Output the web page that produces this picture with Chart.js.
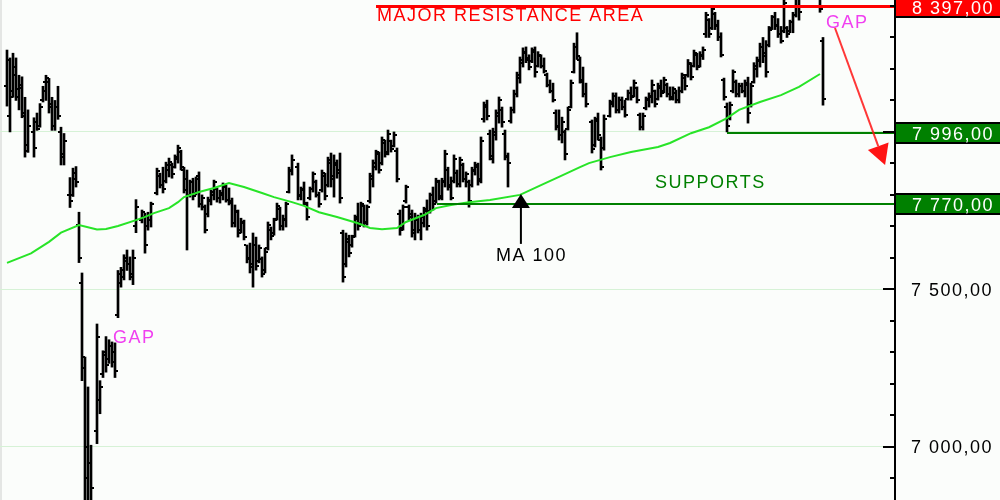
<!DOCTYPE html>
<html><head><meta charset="utf-8">
<script src="https://cdn.jsdelivr.net/npm/chart.js@4.4.1/dist/chart.umd.min.js"></script>
<style>html,body{margin:0;padding:0;background:#fbfdfb;overflow:hidden}canvas{display:block}</style>
</head><body>
<canvas id="c" width="1000" height="500"></canvas>
<script>
// trading-day index of each bar
const days = [
0,1,2,3,4,5,6,7,9,10,11,12,13,14,15,16,17,18,19,21,22,23,24,25,26,27,28,30,31,32,33,34,35,36,37,38,39,40,41,42,43,
45,46,47,48,50,51,52,53,54,55,56,57,58,59,60,61,62,63,64,65,66,67,68,69,70,71,72,73,74,75,76,77,78,79,80,81,82,83,84,85,86,87,88,89,90,91,92,93,94,95,
97,98,99,100,101,102,103,104,105,106,107,108,109,110,111,112,113,114,115,116,117,118,119,120,121,122,123,124,125,126,127,128,129,130,131,132,133,134,135,136,
137,138,139,140,141,142,143,144,145,146,147,148,149,150,151,152,153,154,155,156,157,158,159,160,161,162,163,164,165,166,167,168,169,170,171,172,173,174,175,176,
177,178,179,180,181,182,183,184,185,186,187,188,189,190,191,192,193,
195,196,197,198,199,
201,202,203,204,205,206,207,208,209,210,211,212,213,214,215,216,217,218,219,220,221,222,223,224,225,226,227,228,229,230,231,232,233,234,235,236,237,238,239,240,
241,242,243,244,245,246,247,248,249,250,251,252,253,254,255,256,257,258,259,260,261,262,263,264,
271,272
];
const opens = [
8145,8050,8130,8205,8110,8140,8050,7960,8000,8030, 8020,8100,8160,8160,8090,8020,8080,8000,7930,7800, 7800,7870,7705,7520,7250,7000,6950,7050,7150,7230, 7300,7280,7320,7300,7420,7520,7540,7600,7580,7540, 7700,
7720,7730,7700,7720, 7805,7860,7830,7845,7880,7895,7890,7915,7935,7880, 7850,7800,7840,7805,7860,7770,7760,7740,7780,7800, 7820,7790,7800,7825,7785,7780,7710,7745,7690,7710, 7640,7600,7580,7640,7590,7595,7560,7630,7690,7680, 7725,7755,7700,7720,7810,7875,
7890,7795,7820,7770,7790,7820,7840,7800,7815,7860, 7830,7900,7860,7895,7880,7680,7580,7650,7640,7670, 7725,7710,7765,7715,7780,7850,7890,7930,7900,7965, 7935,7970,7955,7940,7740,7695,7780,7760,7740,7690,
7725,7690,7710,7750,7750,7800,7780,7840,7795,7840, 7880,7830,7845,7870,7835,7895,7850,7840,7830,7875, 7890,7850,8040,8080,7995,7915,7990,8050,8070,7995, 7920,8035,8070,8120,8170,8220,8250,8230,8225,8255,
8210,8240,8210,8180,8150,8130,8060,8020,7990,8000, 8010,8080,8190,8270,8230,8160,8120,
8030,7960,8040,7975,7950,
8050,8090,8115,8070,8100,8080,8105,8125,8115,8140, 8055,8015,8075,8100,8110,8130,8105,8140,8130,8150, 8120,8105,8125,8100,8130,8170,8180,8215,8210,8245, 8210,8240,8310,8355,8330,8375,8340,8300,8165,8080,
8045,8130,8160,8120,8145,8130,8150,8085,8160,8200, 8225,8270,8250,8275,8330,8365,8340,8310,8320,8330, 8320,8350,8370,8430,
8430,8290
];
const highs = [
8260,8235,8250,8235,8180,8175,8110,8070,8045,8060, 8090,8145,8180,8170,8110,8100,8145,8015,7995,7855, 7885,7890,7745,7552,7285,7190,7005,7390,7210,7305, 7350,7340,7333,7330,7560,7570,7610,7625,7603,7625, 7785,
7752,7742,7745,7777, 7885,7869,7888,7904,7917,7901,7927,7958,7942,7888, 7879,7847,7853,7857,7873,7800,7768,7793,7815,7847, 7822,7815,7838,7831,7822,7790,7768,7752,7726,7720, 7641,7647,7679,7666,7641,7603,7631,7714,7698,7726, 7774,7761,7736,7777,7888,7927,
7901,7825,7841,7777,7825,7873,7847,7809,7879,7869, 7920,7933,7927,7911,7933,7688,7679,7672,7672,7736, 7774,7777,7768,7768,7869,7911,7942,7936,7984,7974, 8006,7974,8000,7949,7752,7768,7831,7768,7752,7742,
7736,7742,7761,7784,7806,7825,7853,7847,7853,7942, 7888,7857,7927,7879,7920,7901,7873,7847,7888,7904, 7901,7984,8095,8101,8006,8012,8070,8111,8079,8006, 7933,8079,8133,8190,8238,8267,8270,8245,8267,8270,
8255,8245,8235,8187,8165,8155,8070,8070,8047,8006, 8079,8165,8282,8315,8238,8206,8155,
8038,8047,8060,7984,8054,
8101,8124,8124,8111,8111,8101,8133,8143,8165,8143, 8060,8060,8111,8124,8165,8133,8155,8165,8174,8155, 8143,8143,8133,8143,8187,8180,8230,8220,8260,8250, 8255,8270,8380,8360,8397,8380,8355,8315,8171,8092,
8095,8197,8165,8155,8155,8165,8174,8155,8220,8238, 8282,8300,8290,8335,8370,8380,8360,8335,8430,8335, 8355,8380,8440,8445,
8440,8300
];
const lows = [
8082,8000,8110,8100,8070,8045,7920,7935,7920,8005, 8015,8095,8100,8060,8005,8005,8040,7895,7895,7760, 7795,7825,7585,7210,6800,6800,6800,7010,7105,7220, 7237,7265,7253,7220,7410,7507,7530,7560,7530,7515, 7680,
7711,7615,7688,7698, 7800,7822,7806,7838,7857,7853,7885,7901,7879,7806, 7625,7793,7784,7800,7761,7752,7679,7730,7768,7784, 7777,7774,7784,7777,7768,7698,7698,7666,7679,7657, 7584,7552,7507,7561,7584,7539,7552,7625,7657,7672, 7720,7688,7688,7698,7806,7863,
7784,7784,7768,7720,7784,7809,7793,7761,7809,7784, 7825,7825,7793,7853,7774,7523,7571,7603,7634,7666, 7688,7704,7698,7704,7774,7825,7879,7869,7895,7920, 7927,7936,7952,7841,7672,7688,7774,7720,7666,7657,
7679,7657,7698,7688,7742,7752,7774,7784,7784,7825, 7815,7784,7838,7825,7825,7841,7825,7761,7825,7863, 7831,7838,8031,8038,7911,7901,7974,8028,8015,7911, 7825,8028,8060,8111,8155,8206,8220,8197,8220,8174,
8206,8203,8187,8143,8124,8095,8006,7974,7965,7911, 8006,8076,8187,8230,8155,8111,8079,
7933,7952,7974,7879,7942,
8047,8079,8060,8060,8070,8047,8101,8101,8111,8092, 8006,8006,8070,8079,8092,8079,8101,8111,8124,8111, 8101,8101,8092,8092,8124,8133,8174,8165,8206,8197, 8206,8230,8300,8300,8325,8325,8290,8238,8101,8000,
8038,8124,8111,8111,8124,8111,8028,8079,8155,8174, 8206,8220,8174,8270,8325,8325,8300,8282,8315,8300, 8315,8315,8365,8355,
8380,8085
];
const closes = [
8228,8110,8180,8135,8150,8060,7940,8020,7950,8010, 8080,8130,8170,8080,8020,8080,8050,7920,7970,7780, 7850,7840,7600,7285,6900,6950,6870,7350,7190,7290, 7260,7320,7270,7240,7550,7560,7590,7580,7550,7600, 7760,
7745,7640,7735,7770, 7875,7830,7820,7895,7905,7865,7920,7950,7890,7815, 7800,7840,7795,7850,7770,7790,7690,7785,7810,7840, 7790,7805,7830,7785,7775,7710,7750,7680,7715,7665, 7595,7570,7640,7575,7630,7550,7620,7705,7670,7720, 7765,7700,7725,7770,7880,7910,
7800,7815,7775,7730,7820,7865,7800,7770,7870,7795, 7910,7850,7900,7870,7790,7540,7660,7615,7665,7730, 7700,7770,7710,7760,7860,7900,7935,7880,7975,7930, 7995,7945,7990,7850,7690,7760,7825,7730,7680,7720,
7690,7730,7755,7700,7800,7770,7845,7790,7845,7930, 7825,7790,7915,7835,7910,7850,7865,7780,7880,7895, 7845,7970,8085,8050,7925,8000,8060,8100,8030,7925, 7900,8070,8120,8180,8230,8255,8235,8205,8260,8190,
8245,8210,8195,8150,8130,8100,8015,7990,8030,7930, 8070,8155,8270,8240,8165,8120,8090,
7945,8035,7990,7890,8040,
8095,8115,8070,8100,8080,8055,8125,8110,8155,8100, 8015,8050,8105,8115,8150,8090,8145,8125,8165,8120, 8110,8135,8100,8130,8180,8145,8220,8175,8250,8205, 8245,8260,8370,8310,8390,8335,8300,8245,8110,8020,
8085,8190,8120,8145,8130,8155,8060,8145,8210,8230, 8270,8240,8190,8325,8365,8335,8310,8290,8410,8310, 8350,8370,8430,8380,
8390,8105
];
// 100-day moving average, read at sample days
const maDays = [0,8,14,18,24,30,33,37,43,46,49,54,57,59,64,69,74,79,85,89,95,99,104,110,117,121,125,130,133,139,143,148,154,161,171,178,184,191,194,201,208,217,221,228,234,240,244,251,258,264,271];
const maValues = [7584,7614,7651,7680,7704,7690,7692,7701,7720,7730,7742,7758,7777,7793,7809,7822,7838,7825,7806,7793,7777,7765,7745,7730,7710,7695,7691,7695,7714,7736,7758,7768,7777,7784,7800,7831,7857,7888,7901,7920,7936,7952,7965,7996,8015,8044,8070,8095,8117,8143,8184];
// levels
const resistanceLevel = 8397;
const supportLevels = [7996, 7770];
const supportStartDays = [240, 143.3];
const resistanceStartDay = 123;
const boxLevels = [8397, 7996, 7770];
const boxColors = ['#ff0000', '#008000', '#008000'];
const labelledTicks = [8000, 7500, 7000];

const FONT = '18px "Liberation Sans", Arial, sans-serif';
function fmt(v) {
  const s = v.toFixed(2).split('.');
  return s[0].replace(/\B(?=(\d{3})+(?!\d))/g, ' ') + ',' + s[1];
}

const bgPlugin = {
  id: 'bg',
  beforeDraw(chart) {
    const ctx = chart.ctx;
    ctx.save();
    ctx.fillStyle = '#fbfdfb';
    ctx.fillRect(0, 0, chart.width, chart.height);
    ctx.fillStyle = '#e4e6e4';
    ctx.fillRect(0, 0, 2, chart.height);
    ctx.restore();
  }
};

const ohlcPlugin = {
  id: 'ohlcTicks',
  afterDatasetDraw(chart, args) {
    if (args.index !== 0) return;
    const ctx = chart.ctx, ys = chart.scales.y, a = chart.chartArea;
    ctx.save();
    ctx.beginPath();
    ctx.rect(a.left, a.top, a.right - a.left, a.bottom - a.top);
    ctx.clip();
    ctx.fillStyle = '#000';
    args.meta.data.forEach((el, i) => {
      const x = Math.round(el.x);
      ctx.fillRect(x - 3, Math.round(ys.getPixelForValue(opens[i])) - 1, 2, 2);
      ctx.fillRect(x + 1, Math.round(ys.getPixelForValue(closes[i])) - 1, 2, 2);
    });
    ctx.restore();
  }
};

const annotPlugin = {
  id: 'annot',
  afterDatasetsDraw(chart) {
    const ctx = chart.ctx, a = chart.chartArea, xs = chart.scales.x, ys = chart.scales.y;
    ctx.save();
    ctx.font = FONT;
    try { ctx.letterSpacing = '1.5px'; } catch (e) {}
    ctx.textAlign = 'left';
    ctx.textBaseline = 'alphabetic';
    // resistance
    const yr = Math.round(ys.getPixelForValue(resistanceLevel));
    const xr = xs.getPixelForValue(resistanceStartDay);
    ctx.fillStyle = '#ff0000';
    ctx.fillRect(xr, yr - 2, a.right - xr, 3);
    ctx.fillText('MAJOR RESISTANCE AREA', xr + 1, yr + 14);
    // supports
    ctx.fillStyle = '#008000';
    supportLevels.forEach((v, i) => {
      const yv = Math.round(ys.getPixelForValue(v));
      const xv = xs.getPixelForValue(supportStartDays[i]);
      ctx.fillRect(xv, yv - 1, a.right - xv, 2);
    });
    ctx.fillText('SUPPORTS', xs.getPixelForValue(216), ys.getPixelForValue(7770) - 16);
    // gap labels
    ctx.fillStyle = '#f040f0';
    ctx.fillText('GAP', xs.getPixelForValue(273), ys.getPixelForValue(8300) - 9);
    ctx.fillText('GAP', xs.getPixelForValue(35.3), ys.getPixelForValue(7330));
    // MA 100 marker
    const tx = xs.getPixelForValue(171.3), ty = ys.getPixelForValue(7800);
    ctx.fillStyle = '#000';
    ctx.beginPath();
    ctx.moveTo(tx, ty - 1);
    ctx.lineTo(tx + 9, ty + 13);
    ctx.lineTo(tx - 9, ty + 13);
    ctx.closePath();
    ctx.fill();
    ctx.fillRect(tx - 1, ty + 12, 2, 37);
    ctx.fillText('MA 100', xs.getPixelForValue(163), ys.getPixelForValue(7590));
    // arrow
    const sx = xs.getPixelForValue(276), sy = ys.getPixelForValue(8330);
    const ex = xs.getPixelForValue(292.7), ey = ys.getPixelForValue(7895);
    const dx = ex - sx, dy = ey - sy, len = Math.hypot(dx, dy);
    const ux = dx / len, uy = dy / len;
    const bx = ex - ux * 20, by = ey - uy * 20;
    ctx.strokeStyle = 'rgba(255,20,20,0.85)';
    ctx.lineWidth = 2;
    ctx.beginPath();
    ctx.moveTo(sx, sy);
    ctx.lineTo(bx, by);
    ctx.stroke();
    ctx.fillStyle = '#ff1414';
    ctx.beginPath();
    ctx.moveTo(ex, ey);
    ctx.lineTo(bx - uy * 11, by + ux * 11);
    ctx.lineTo(bx + uy * 11, by - ux * 11);
    ctx.closePath();
    ctx.fill();
    ctx.restore();
  }
};

const axisPlugin = {
  id: 'axisDeco',
  afterDraw(chart) {
    const ctx = chart.ctx, ys = chart.scales.y, right = chart.chartArea.right;
    ctx.save();
    ctx.fillStyle = '#000';
    ys.ticks.forEach(t => {
      const py = Math.round(ys.getPixelForValue(t.value));
      const L = labelledTicks.includes(t.value) ? 12 : 5;
      ctx.fillRect(right - L, py - 1, L, 2);
    });
    ctx.font = FONT;
    try { ctx.letterSpacing = '1.5px'; } catch (e) {}
    ctx.textAlign = 'left';
    ctx.textBaseline = 'alphabetic';
    labelledTicks.forEach(v => {
      const py = ys.getPixelForValue(v);
      ctx.fillStyle = '#000';
      ctx.fillText(fmt(v), right + 16, py + 6.5);
    });
    boxLevels.forEach((v, i) => {
      const py = Math.round(ys.getPixelForValue(v));
      ctx.fillStyle = boxColors[i];
      ctx.fillRect(right, py - 10, chart.width - right + 5, 20);
      ctx.strokeStyle = '#000';
      ctx.lineWidth = 2;
      ctx.strokeRect(right, py - 10, chart.width - right + 10, 20);
      ctx.fillStyle = '#fff';
      ctx.fillText(fmt(v), right + 17, py + 7);
    });
    ctx.restore();
  }
};

new Chart(document.getElementById('c'), {
  type: 'bar',
  data: {
    datasets: [
      {
        type: 'bar',
        data: days.map((d, i) => ({ x: d, y: [lows[i], highs[i]] })),
        backgroundColor: '#000',
        borderWidth: 0,
        barThickness: 2,
        grouped: false,
        order: 2,
        clip: 0
      },
      {
        type: 'line',
        data: maDays.map((d, i) => ({ x: d, y: maValues[i] })),
        borderColor: '#28e428',
        borderWidth: 2,
        pointRadius: 0,
        tension: 0,
        fill: false,
        order: 1,
        clip: 0
      }
    ]
  },
  options: {
    responsive: false,
    animation: false,
    devicePixelRatio: 1,
    layout: { padding: 0 },
    plugins: { legend: { display: false }, tooltip: { enabled: false } },
    scales: {
      x: { type: 'linear', min: -2.3333, max: 296, offset: false, display: false },
      y: {
        type: 'linear', position: 'right', min: 6831, max: 8419,
        ticks: { stepSize: 100, display: false, includeBounds: false },
        grid: {
          color: c => (c.tick && labelledTicks.includes(c.tick.value)) ? '#d6f2d6' : 'rgba(0,0,0,0)',
          drawTicks: false, tickLength: 0, lineWidth: 1
        },
        border: { display: true, color: '#000', width: 2 },
        afterFit: s => { s.width = 105; }
      }
    }
  },
  plugins: [bgPlugin, ohlcPlugin, annotPlugin, axisPlugin]
});
</script>
</body></html>
